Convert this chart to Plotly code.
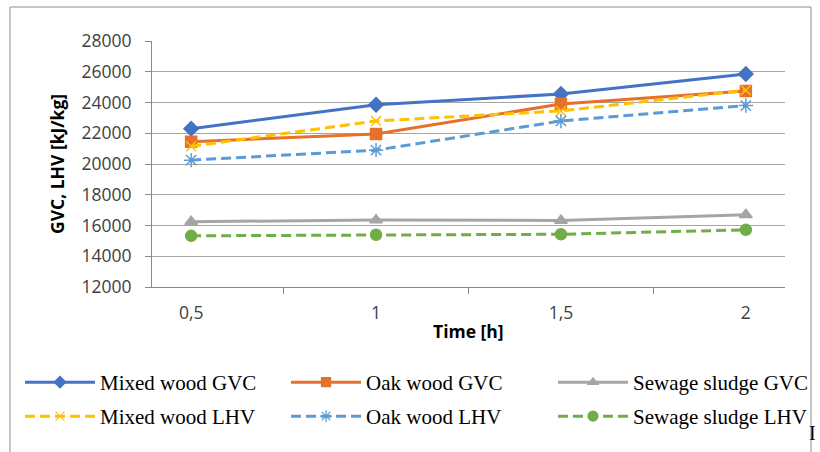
import plotly.graph_objects as go

time_labels = ["0,5", "1", "1,5", "2"]
mixed_gvc = [22300, 23850, 24550, 25850]
oak_gvc = [21450, 21950, 23900, 24750]
sludge_gvc = [16250, 16350, 16330, 16700]
mixed_lhv = [21150, 22800, 23450, 24800]
oak_lhv = [20250, 20900, 22800, 23800]
sludge_lhv = [15330, 15400, 15430, 15720]
y_ticks = list(range(12000, 28001, 2000))

series = [
    ("Mixed wood GVC", mixed_gvc, "#4472C4", "solid", "diamond", 11, 9),
    ("Oak wood GVC", oak_gvc, "#E5712A", "solid", "square", 11, 9),
    ("Sewage sludge GVC", sludge_gvc, "#A5A5A5", "solid", "triangle-up", 11, 9),
    ("Mixed wood LHV", mixed_lhv, "#FFC000", "10px,5px", "x-thin-open", 10, 9),
    ("Oak wood LHV", oak_lhv, "#5B9BD5", "10px,5px", "asterisk-open", 12, 10),
    ("Sewage sludge LHV", sludge_lhv, "#70AD47", "10px,5px", "circle", 11, 10),
]

L, R, T, B = 152, 35, 41, 165
W, H = 820, 452
pw, ph = W - L - R, H - T - B

def px_x(px):
    return (px - L) / pw

def px_y(py):
    return (H - B - py) / ph

legend_cols = [20, 286, 553]
legend_rows = [362, 396]

fig = go.Figure()
legend_layouts = {}
legend_font = dict(family="Liberation Serif, Times New Roman, serif", size=21, color="black")
for i, (name, vals, col, dash, sym, sz, lsz) in enumerate(series):
    key = "legend" if i == 0 else f"legend{i + 1}"
    fig.add_trace(go.Scatter(
        x=time_labels, y=vals, name=name, mode="lines+markers", showlegend=False,
        line=dict(color=col, width=3, dash=dash),
        marker=dict(symbol=sym, size=sz, color=col, line=dict(color=col, width=1.5)),
    ))
    # legend-only sample with smaller marker, as in the reference
    fig.add_trace(go.Scatter(
        x=[None], y=[None], name=name, mode="lines+markers", legend=key,
        line=dict(color=col, width=3, dash=dash),
        marker=dict(symbol=sym, size=lsz, color=col, line=dict(color=col, width=1.2)),
    ))
    legend_layouts[key] = dict(
        orientation="h", xref="container", yref="container",
        x=legend_cols[i % 3] / W, y=1 - legend_rows[i // 3] / H,
        xanchor="left", yanchor="top", font=legend_font,
        itemwidth=70, bgcolor="rgba(0,0,0,0)",
    )

tick_font = dict(family="Open Sans, Lato, sans-serif", size=17.5, color="#404040")
title_font = dict(family="Open Sans, sans-serif", size=17.5, color="black")

fig.update_layout(
    width=W, height=H,
    margin=dict(l=L, r=R, t=T, b=B, autoexpand=False),
    paper_bgcolor="white", plot_bgcolor="white",
    xaxis=dict(
        type="category", tickson="boundaries", ticks="outside", ticklen=6,
        tickcolor="#898989", showline=True, linecolor="#898989", linewidth=1,
        showgrid=False, tickfont=tick_font, ticklabelstandoff=10, automargin=False,
    ),
    yaxis=dict(
        range=[12000, 28000], tickvals=y_ticks, tickformat="d", ticks="outside", ticklen=6,
        tickcolor="#898989", showline=True, linecolor="#898989", linewidth=1,
        gridcolor="#A6A6A6", gridwidth=1, tickfont=tick_font, zeroline=False,
        ticklabelstandoff=10, automargin=False,
    ),
    showlegend=True,
    **legend_layouts,
)

fig.add_annotation(xref="paper", yref="paper", x=0.5, y=px_y(331), text="<b>Time [h]</b>",
                   showarrow=False, font=title_font, xanchor="center", yanchor="middle")
fig.add_annotation(xref="paper", yref="paper", x=px_x(57), y=0.5, text="<b>GVC, LHV [kJ/kg]</b>",
                   showarrow=False, font=title_font, textangle=-90, xanchor="center", yanchor="middle")

fig.add_shape(type="rect", xref="paper", yref="paper",
              x0=px_x(10), x1=px_x(811), y0=px_y(470), y1=px_y(7),
              line=dict(color="#8C8C8C", width=1), fillcolor="rgba(0,0,0,0)", layer="below")
fig.add_annotation(xref="paper", yref="paper", x=px_x(818), y=px_y(446), text="I",
                   showarrow=False, font=dict(family="Liberation Serif", size=20, color="black"))

fig.write_html("out.html")
